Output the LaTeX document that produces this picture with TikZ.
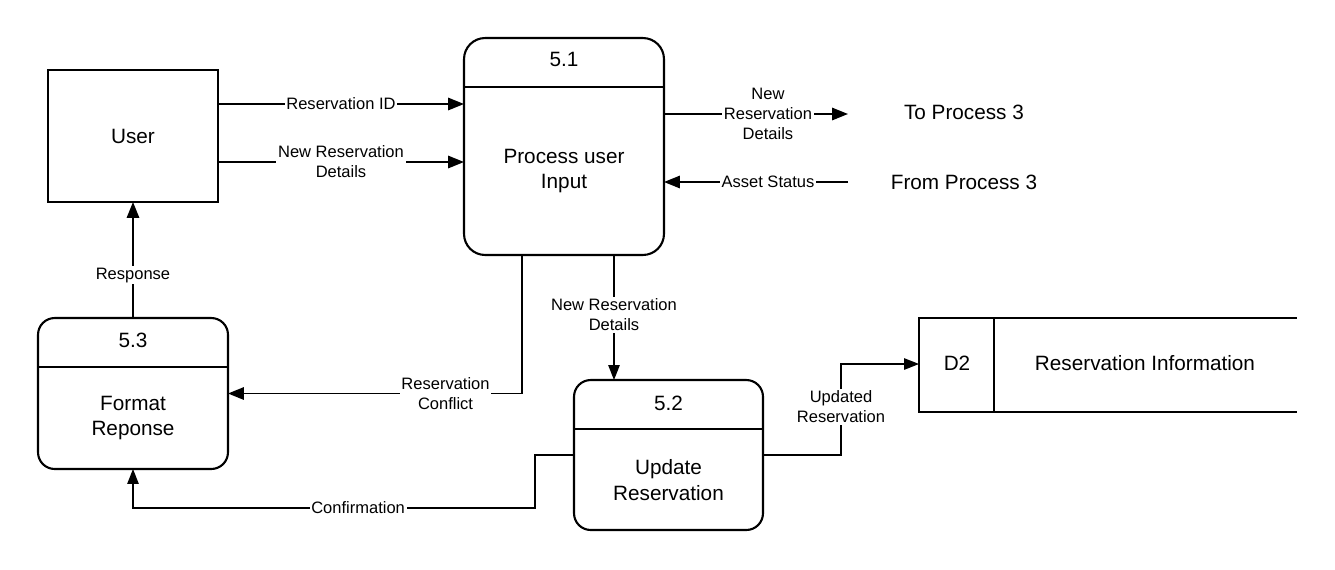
\documentclass[tikz,border=0pt]{standalone}
\usepackage{fontspec}
\setmainfont{Liberation Sans}
\usetikzlibrary{arrows.meta,positioning,calc}
\tikzset{
  proc/.style={draw, line width=1.2pt, rounded corners=9.5pt, outer sep=0pt},
  ent/.style={draw, line width=1.2pt, outer sep=0pt},
  ttl/.style={font=\fontsize{11.8}{14.7}\selectfont, align=center},
  lbl/.style={font=\fontsize{9.4}{11.3}\selectfont, align=center, fill=white, inner sep=1pt},
  flow/.style={-{Triangle[length=9pt,width=7pt]}, line width=1pt},
  tflow/.style={-{Triangle[length=8.5pt,width=6.5pt]}, line width=0.75pt},
  rule/.style={line width=1.2pt}
}
\begin{document}
\begin{tikzpicture}[x=0.02cm, y=-0.02cm]
  \useasboundingbox (0,0) rectangle (1335,569);

  % external entity
  \node[ent, ttl, minimum width=3.4cm, minimum height=2.64cm] (user) at (133,136) {User};

  % process 5.1
  \node[proc, rounded corners=12pt, minimum width=4cm, minimum height=4.34cm] (p51) at (564,146.5) {};
  \draw[rule] (p51.west |- 0,87) -- (p51.east |- 0,87);
  \node[ttl] (p51n) at (564,59) {5.1};
  \node[ttl] (p51t) at (564,171) {Process user\\Input};

  % process 5.3
  \node[proc, minimum width=3.8cm, minimum height=3.02cm] (p53) at (133,393.5) {};
  \draw[rule] (p53.west |- 0,367) -- (p53.east |- 0,367);
  \node[ttl] (p53n) at (133,340) {5.3};
  \node[ttl] (p53t) at (133,418) {Format\\Reponse};

  % process 5.2
  \node[proc, minimum width=3.78cm, minimum height=3cm] (p52) at (668.5,455) {};
  \draw[rule] (p52.west |- 0,429) -- (p52.east |- 0,429);
  \node[ttl] (p52n) at (668.5,403) {5.2};
  \node[ttl] (p52t) at (668.5,480) {Update\\Reservation};

  % data store D2
  \node[minimum width=7.56cm, minimum height=1.88cm, outer sep=0pt] (d2) at (1108,365) {};
  \draw[rule] (d2.north east) -- (d2.north west) -- (d2.south west) -- (d2.south east);
  \draw[rule] (d2.north west -| 994,0) -- (d2.south west -| 994,0);
  \node[ttl] (d2n) at (957,363) {D2};
  \node[ttl] (d2t) at (1145,363) {Reservation Information};

  % other process
  \coordinate (to3) at (848,114);
  \coordinate (from3) at (848,182);
  \node[ttl] (to3t) at (964,112) {To Process 3};
  \node[ttl] (from3t) at (964,182) {From Process 3};

  % flows
  \draw[flow] (user.east |- 0,104) -- node[lbl] {Reservation ID} (p51.west |- 0,104);
  \draw[flow] (user.east |- 0,162) -- node[lbl] {New Reservation\\Details} (p51.west |- 0,162);
  \draw[flow] (p51.east |- to3) -- node[lbl, pos=0.565] {New\\Reservation\\Details} (to3);
  \draw[flow] (from3) -- node[lbl, pos=0.435] {Asset Status} (p51.east |- from3);
  \draw[flow] (p51.south -| 522,0) |- node[lbl, pos=0.63] {Reservation\\Conflict} (p53.east);
  \draw[flow] (p53.north) -- node[lbl, pos=0.37] {Response} (user.south);
  \draw[tflow] (p51.south -| 614,0) -- node[lbl, pos=0.48] {New Reservation\\Details} (p52.north -| 614,0);
  \draw[tflow] (p52.west) -- (535,455) |- node[lbl, pos=0.72] {Confirmation} (133,508) -- (p53.south);
  \draw[tflow] (p52.east) -| node[lbl, pos=0.765] {Updated\\Reservation} (841,364) -- (d2.west |- 0,364);
\end{tikzpicture}
\end{document}
